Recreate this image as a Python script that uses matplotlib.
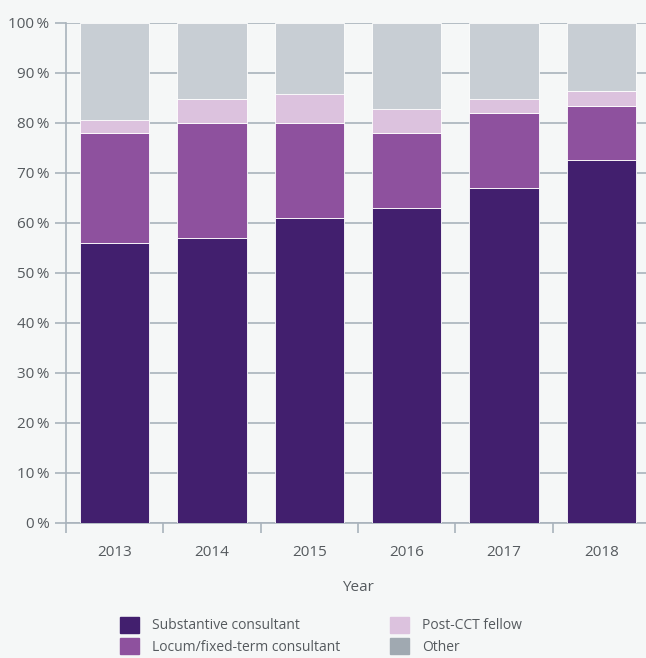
import numpy as np
import matplotlib.pyplot as plt
from matplotlib.patches import Patch

years = ["2013", "2014", "2015", "2016", "2017", "2018"]
substantive = [56, 57, 61, 63, 67, 72.7]
locum = [22, 23, 19, 15, 15, 10.8]
post_cct = [2.7, 4.8, 5.9, 4.9, 2.9, 2.9]
other = [100 - a - b - c for a, b, c in zip(substantive, locum, post_cct)]

c_sub = "#421f6e"
c_loc = "#8e519e"
c_post = "#dcc2de"
c_other = "#c8ced4"
c_other_leg = "#a0a9b1"
bg = "#f5f7f7"
grid_c = "#a9b3bc"
text_c = "#555a5e"

plt.rcParams['font.family'] = ['Open Sans', 'DejaVu Sans']

fig = plt.figure(figsize=(6.46, 6.58), dpi=100, facecolor=bg)
ax = fig.add_axes([66 / 646, 1 - 523 / 658, 584 / 646, 500 / 658])
ax.set_facecolor(bg)

x = np.arange(len(years))
w = 0.71
bottom = np.zeros(len(years))
for vals, col in [(substantive, c_sub), (locum, c_loc), (post_cct, c_post), (other, c_other)]:
    ax.bar(x, vals, w, bottom=bottom, color=col, edgecolor="white", linewidth=0.6, zorder=3)
    bottom += np.array(vals)

ax.set_xlim(-0.5, len(years) - 0.5)
ax.set_ylim(0, 100)
ax.set_yticks(np.arange(0, 101, 10))
ax.set_yticklabels([f"{v}\u2009%" for v in range(0, 101, 10)])
ax.yaxis.grid(True, color=grid_c, linewidth=1.2, zorder=0)

# category ticks at boundaries, labels at centres
ax.set_xticks(np.arange(-0.5, len(years), 1.0))
ax.set_xticklabels([])
ax.set_xticks(x, minor=True)
ax.set_xticklabels(years, minor=True)
ax.tick_params(axis="x", which="major", length=7, color=grid_c, width=1.2)
ax.tick_params(axis="x", which="minor", length=0, pad=16, labelsize=11, labelcolor=text_c)
ax.tick_params(axis="y", length=8, color=grid_c, width=1.2, labelsize=11, labelcolor=text_c, pad=4)

for s in ["top", "right"]:
    ax.spines[s].set_visible(False)
for s in ["left", "bottom"]:
    ax.spines[s].set_color(grid_c)
    ax.spines[s].set_linewidth(1.2)

ax.set_xlabel("Year", fontsize=11, color=text_c, labelpad=14)

handles = [
    Patch(color=c_sub, label="Substantive consultant"),
    Patch(color=c_loc, label="Locum/fixed-term consultant"),
    Patch(color=c_post, label="Post-CCT fellow"),
    Patch(color=c_other_leg, label="Other"),
]
fig.legend(handles=handles, ncol=2, loc="upper left", bbox_to_anchor=(114 / 646, 1 - 611 / 658),
           frameon=False, fontsize=10, labelcolor=text_c, handlelength=1.4, handleheight=1.4,
           columnspacing=3.6, handletextpad=0.9, labelspacing=0.35, borderaxespad=0)

fig.savefig("out.png", dpi=100, facecolor=bg)
